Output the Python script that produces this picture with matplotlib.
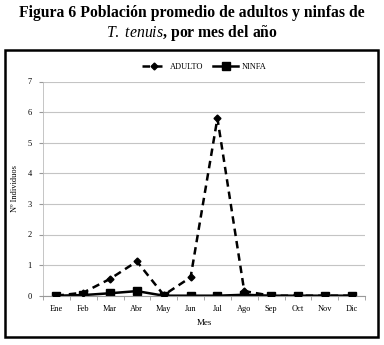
import matplotlib
matplotlib.use('Agg')
import matplotlib.pyplot as plt
from matplotlib.patches import Rectangle
from matplotlib.ticker import FixedLocator

# data
meses = ['Ene', 'Feb', 'Mar', 'Abr', 'May', 'Jun', 'Jul', 'Ago', 'Sep', 'Oct', 'Nov', 'Dic']
adulto = [0, 0.1, 0.55, 1.12, 0.02, 0.6, 5.8, 0.15, 0, 0, 0, 0]
ninfa = [0, 0.02, 0.08, 0.15, 0, 0, 0, 0.03, 0, 0, 0, 0]

plt.rcParams['font.family'] = ['Liberation Serif', 'DejaVu Serif']
plt.rcParams['mathtext.fontset'] = 'custom'
plt.rcParams['mathtext.it'] = 'Liberation Serif:italic'
plt.rcParams['mathtext.rm'] = 'Liberation Serif'
plt.rcParams['mathtext.bf'] = 'Liberation Serif:bold'

fig = plt.figure(figsize=(3.84, 3.45), dpi=100)

# title
fig.text(0.5, 1 - 13 / 345, 'Figura 6 Población promedio de adultos y ninfas de',
         ha='center', va='center', fontsize=11.3, fontweight='bold')
fig.text(0.5, 1 - 33 / 345, r'$\mathit{T.\ tenuis}$, por mes del año',
         ha='center', va='center', fontsize=11.3, fontweight='bold')

# outer box
fig.patches.append(Rectangle((5 / 384, 1 - 337 / 345), 373 / 384, 287 / 345,
                             transform=fig.transFigure, fill=False,
                             edgecolor='black', linewidth=1.8))

ax = fig.add_axes([43 / 384, 1 - 295.7 / 345, 322 / 384, 214.2 / 345])
x = list(range(len(meses)))
ax.plot(x, adulto, linestyle='--', color='black', linewidth=1.8, dashes=(3, 2),
        marker='D', markersize=3.5, label='ADULTO', zorder=3)
ax.plot(x, ninfa, linestyle='-', color='black', linewidth=1.8,
        marker='s', markersize=5.2, label='NINFA', zorder=2)

ax.set_xlim(-0.5, len(meses) - 0.5)
ax.set_ylim(0, 7)
ax.set_yticks(range(0, 8))
ax.set_xticks(x)
ax.set_xticklabels(meses)
ax.xaxis.set_minor_locator(FixedLocator([i - 0.5 for i in range(len(meses) + 1)]))
ax.tick_params(axis='x', which='major', length=0, pad=7, labelsize=6)
ax.tick_params(axis='x', which='minor', length=3, color='#999999')
ax.tick_params(axis='y', length=3, color='#999999', labelsize=6, pad=5)
ax.grid(axis='y', color='#c4c4c4', linewidth=0.8)
ax.set_axisbelow(True)
for s in ['top', 'right']:
    ax.spines[s].set_visible(False)
ax.spines['bottom'].set_color('#999999')
ax.spines['left'].set_color('#bbbbbb')
ax.spines['left'].set_linewidth(0.6)

ax.set_xlabel('Mes', fontsize=6.5, labelpad=4)
ax.set_ylabel('Nº Individuos', fontsize=6, labelpad=6)

ax.legend(loc='lower center', bbox_to_anchor=(0.5, 1.02), ncol=2, frameon=False,
          fontsize=6, handlelength=3, handletextpad=0.4, columnspacing=1.2,
          borderaxespad=0.3)

fig.savefig('out.png', dpi=100)
